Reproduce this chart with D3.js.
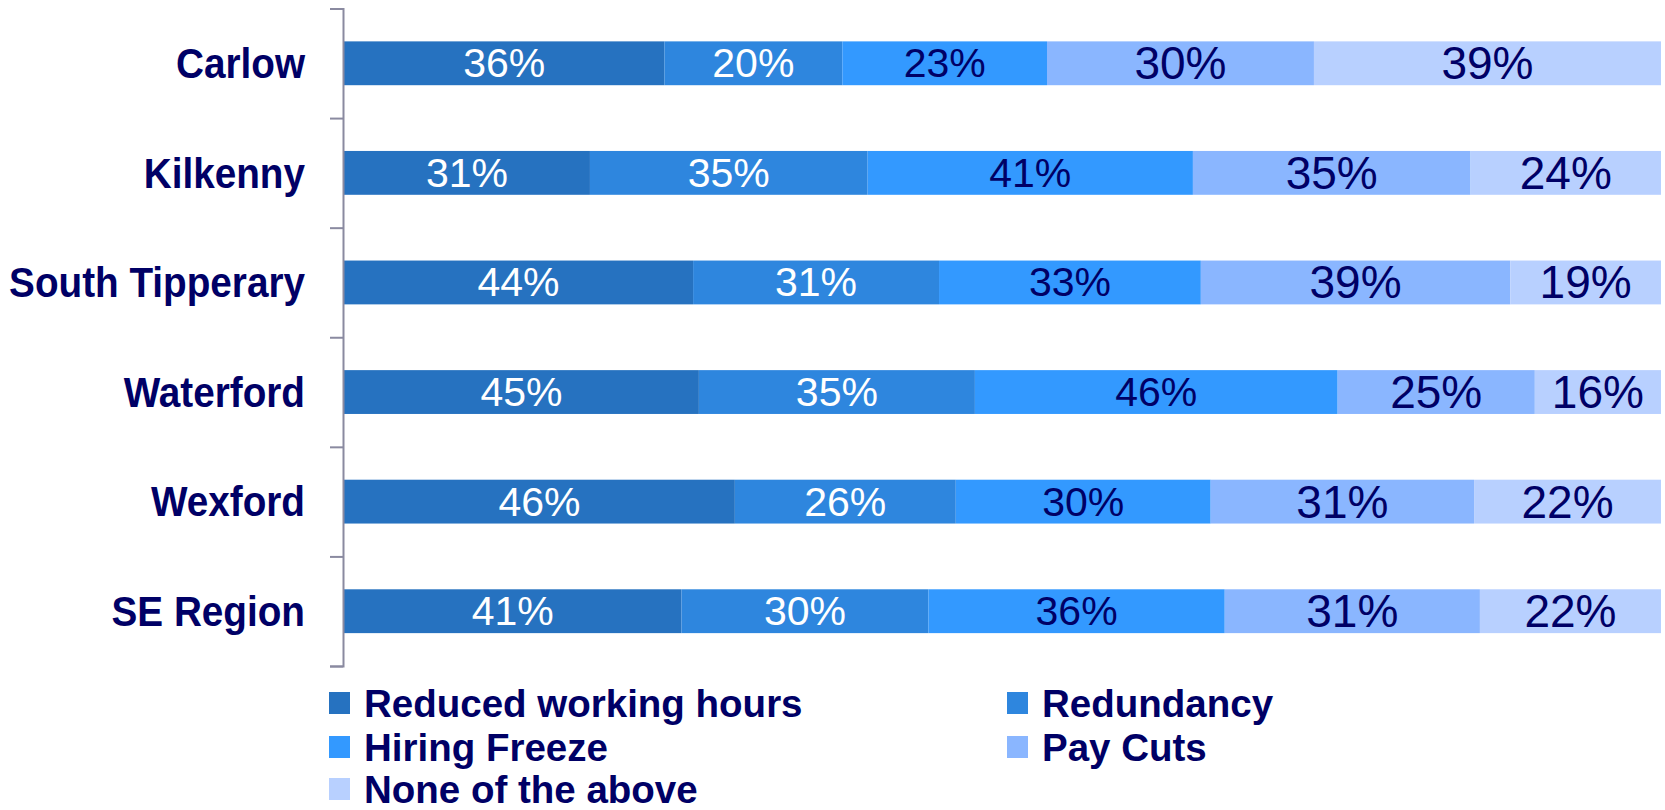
<!DOCTYPE html>
<html>
<head>
<meta charset="utf-8">
<script src="https://cdn.jsdelivr.net/npm/d3@7"></script>
<style>
  html, body { margin: 0; padding: 0; background: #ffffff; }
  svg { display: block; font-family: "Liberation Sans", Arial, sans-serif; }
</style>
</head>
<body>
<svg id="chart" width="1665" height="810"></svg>
<script>
const categories = ["Carlow", "Kilkenny", "South Tipperary", "Waterford", "Wexford", "SE Region"];
const seriesNames = ["Reduced working hours", "Redundancy", "Hiring Freeze", "Pay Cuts", "None of the above"];
const reducedHours = [36, 31, 44, 45, 46, 41];
const redundancy   = [20, 35, 31, 35, 26, 30];
const hiringFreeze = [23, 41, 33, 46, 30, 36];
const payCuts      = [30, 35, 39, 25, 31, 31];
const noneAbove    = [39, 24, 19, 16, 22, 22];
const seriesValues = [reducedHours, redundancy, hiringFreeze, payCuts, noneAbove];

const colors = ["#2672c0", "#2e86de", "#3399ff", "#8ab6ff", "#b8d0ff"];
const labelColors = ["#ffffff", "#ffffff", "#000066", "#000066", "#000066"];
const labelSizes = [41, 41, 41, 46, 46];
const navy = "#000066";
const axisColor = "#8a8aa0";

const rows = categories.map((c, i) => {
  const r = { category: c };
  seriesNames.forEach((s, j) => { r[s] = seriesValues[j][i]; });
  return r;
});

const stack = d3.stack().keys(seriesNames).offset(d3.stackOffsetExpand);
const stacked = stack(rows);

const svg = d3.select("#chart");
const plotTop = 8.5, plotBottom = 666, plotLeft = 344, plotRight = 1661;

const x = d3.scaleLinear().domain([0, 1]).range([plotLeft, plotRight]);
const y = d3.scaleBand().domain(categories).range([plotTop, plotBottom]).paddingInner(0.6).paddingOuter(0.3);

// bars
const layer = svg.append("g").selectAll("g").data(stacked).join("g")
  .attr("fill", (d, i) => colors[i]);
layer.selectAll("rect").data(d => d).join("rect")
  .attr("x", d => x(d[0]))
  .attr("y", d => y(d.data.category))
  .attr("width", d => x(d[1]) - x(d[0]))
  .attr("height", y.bandwidth());

// value labels
stacked.forEach((s, i) => {
  svg.append("g").selectAll("text").data(s).join("text")
    .attr("x", d => (x(d[0]) + x(d[1])) / 2)
    .attr("y", d => y(d.data.category) + y.bandwidth() / 2)
    .attr("text-anchor", "middle")
    .attr("dominant-baseline", "central")
    .attr("fill", labelColors[i])
    .attr("font-size", labelSizes[i])
    .text(d => d.data[s.key] + "%");
});

// axis with ticks at band boundaries
const yTicks = d3.scaleLinear().domain([0, categories.length]).range([plotTop, plotBottom]);
const axis = svg.append("g").attr("transform", `translate(${plotLeft - 1},0)`)
  .call(d3.axisLeft(yTicks).ticks(categories.length).tickFormat("").tickSize(13).tickSizeOuter(13));
axis.selectAll("path, line").attr("stroke", axisColor).attr("stroke-width", 2);

// category labels
svg.append("g").selectAll("text").data(categories).join("text")
  .attr("transform", d => `translate(305,${y(d) + y.bandwidth() / 2}) scale(0.9,1)`)
  .attr("text-anchor", "end")
  .attr("dominant-baseline", "central")
  .attr("font-weight", "bold")
  .attr("font-size", 43)
  .attr("fill", navy)
  .text(d => d);

// legend
const legendCols = [329, 1007];
const legendRows = [703, 747, 789];
const legend = svg.append("g").selectAll("g").data(seriesNames).join("g")
  .attr("transform", (d, i) => `translate(${legendCols[i % 2]},${legendRows[Math.floor(i / 2)]})`);
legend.append("rect").attr("x", 0).attr("y", -11).attr("width", 21).attr("height", 22)
  .attr("fill", (d, i) => colors[i]);
legend.append("text").attr("x", 35).attr("y", 0)
  .attr("dominant-baseline", "central")
  .attr("font-weight", "bold")
  .attr("font-size", 38.5)
  .attr("fill", navy)
  .text(d => d);
</script>
</body>
</html>
